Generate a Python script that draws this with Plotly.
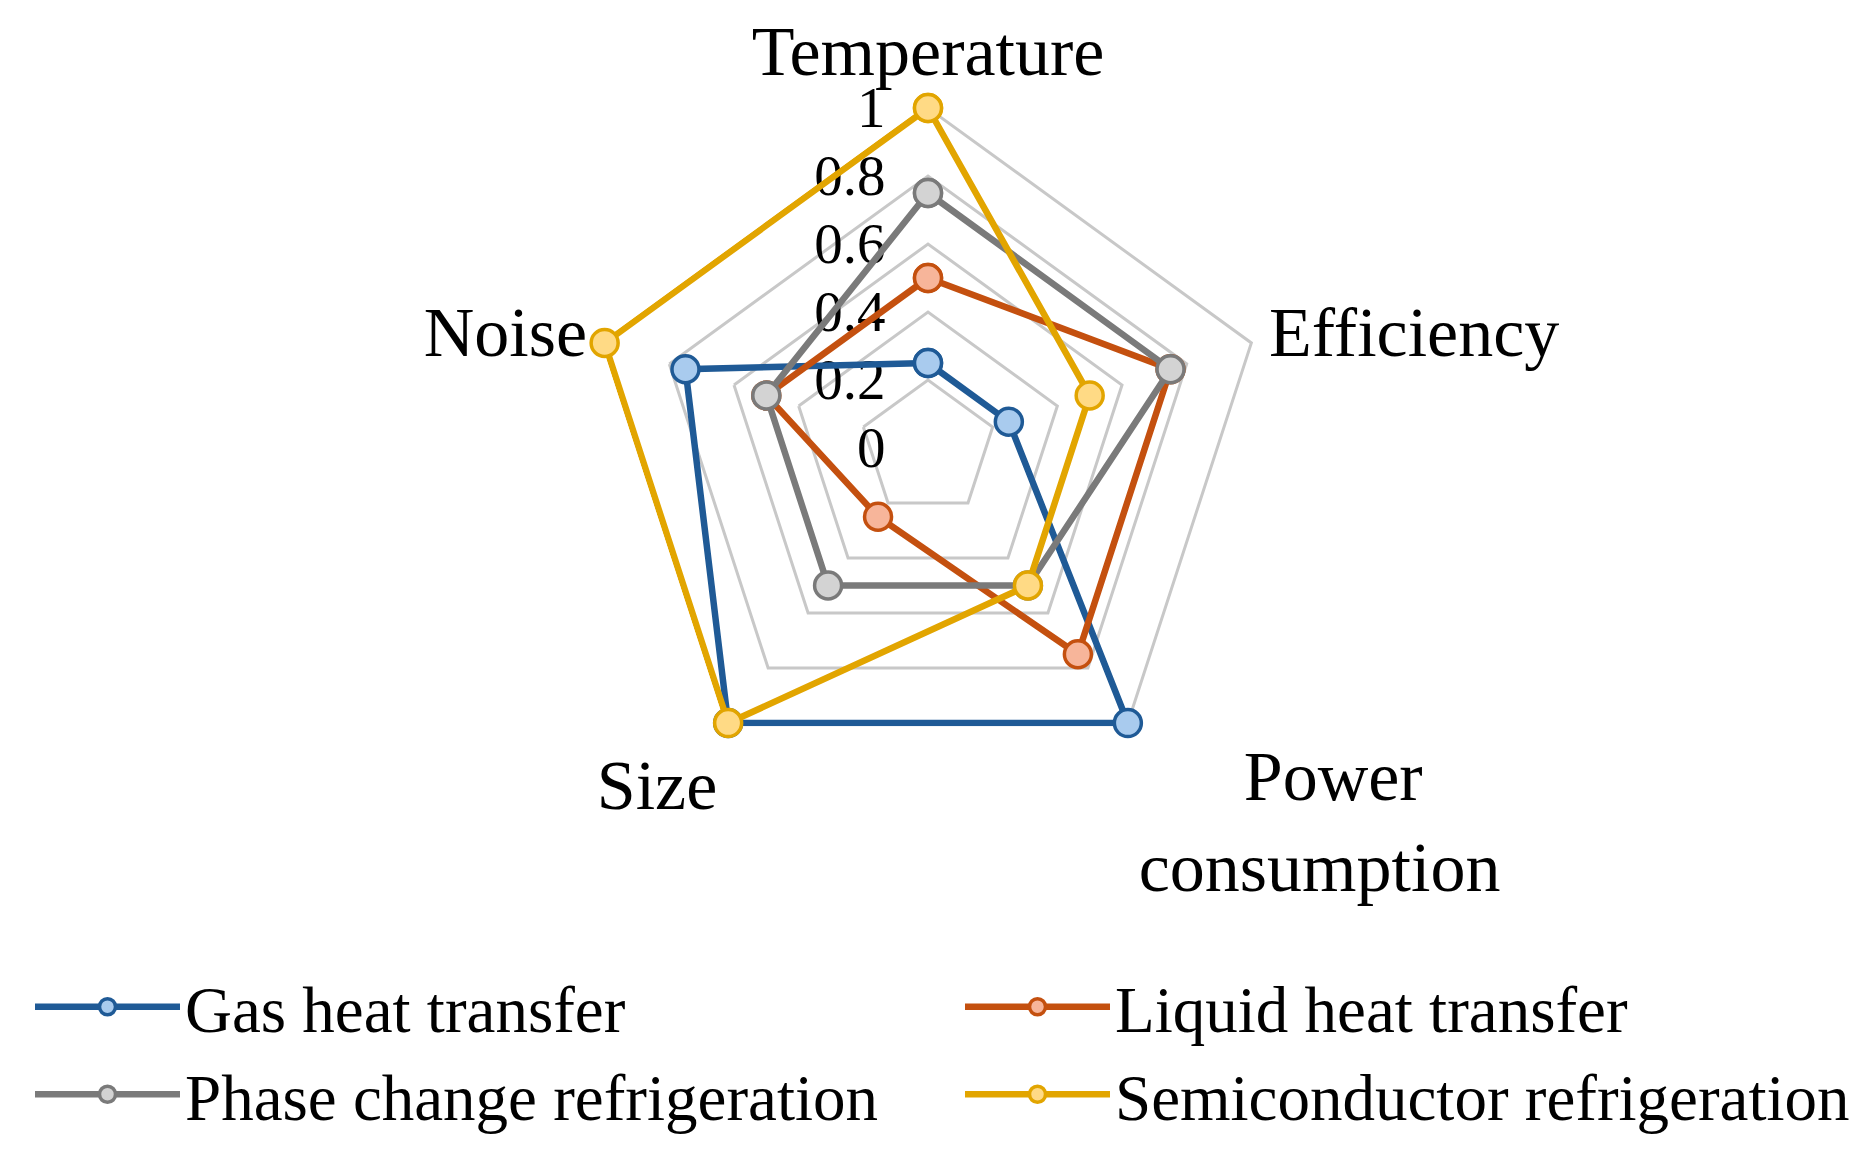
import plotly.graph_objects as go

categories = ["Temperature", "Efficiency", "Power<br>consumption", "Size", "Noise"]
category_labels = ["Temperature", "Efficiency", "\u00a0\u00a0\u00a0\u00a0\u00a0\u00a0Power<br>consumption", "Size", "Noise"]
gas_heat_transfer = [0.25, 0.25, 1.0, 1.0, 0.75]
liquid_heat_transfer = [0.5, 0.75, 0.75, 0.25, 0.5]
phase_change_refrigeration = [0.75, 0.75, 0.5, 0.5, 0.5]
semiconductor_refrigeration = [1.0, 0.5, 0.5, 1.0, 1.0]
radial_ticks = [0, 0.2, 0.4, 0.6, 0.8, 1]
radial_tick_labels = ["0", "0.2", "0.4", "0.6", "0.8", "1"]

series = [
    ("Gas heat transfer", gas_heat_transfer, "#1F5A96", "#A9CBEE"),
    ("Liquid heat transfer", liquid_heat_transfer, "#C4500F", "#F7B59A"),
    ("Phase change refrigeration", phase_change_refrigeration, "#7A7A7A", "#D3D3D3"),
    ("Semiconductor refrigeration", semiconductor_refrigeration, "#E2A500", "#FFDA85"),
]

FONT = "Liberation Serif, Times New Roman, serif"
W, H = 1870, 1160
RMAX = 1.012
cx, cy, R = 920, 440, 340 * RMAX

fig = go.Figure()
for name, vals, lc, fc in series:
    fig.add_trace(go.Scatterpolar(
        r=vals + vals[:1],
        theta=categories + categories[:1],
        mode="lines+markers",
        name=name,
        cliponaxis=False,
        line=dict(color=lc, width=6.5),
        marker=dict(size=27, color=fc, line=dict(color=lc, width=3.5)),
    ))

fig.update_layout(
    width=W, height=H,
    margin=dict(l=0, r=0, t=0, b=0, autoexpand=False),
    paper_bgcolor="white",
    plot_bgcolor="white",
    font=dict(family=FONT, color="black"),
    polar=dict(
        domain=dict(x=[(cx - R) / W, (cx + R) / W], y=[(H - cy - R) / H, (H - cy + R) / H]),
        gridshape="linear",
        bgcolor="white",
        radialaxis=dict(
            range=[0, RMAX], tickvals=radial_ticks, ticktext=radial_tick_labels,
            angle=90, side="counterclockwise", tickangle=90,
            showline=False, ticks="outside", ticklen=22, tickcolor="rgba(0,0,0,0)",
            gridcolor="#C8C8C8", gridwidth=3, layer="below traces",
            tickfont=dict(size=57, family=FONT, color="black"),
        ),
        angularaxis=dict(
            rotation=90, direction="clockwise",
            tickvals=categories, ticktext=category_labels,
            showgrid=False, showline=True, linecolor="rgba(0,0,0,0)", linewidth=1,
            layer="below traces",
            ticks="", tickfont=dict(size=70, family=FONT, color="black"),
        ),
    ),
    legend=dict(
        orientation="h", x=22 / W, y=(H - 950) / H, xanchor="left", yanchor="top",
        entrywidth=770, entrywidthmode="pixels", itemwidth=145,
        font=dict(size=65, family=FONT, color="black"),
        tracegroupgap=0,
    ),
)

fig.write_html("out.html")
